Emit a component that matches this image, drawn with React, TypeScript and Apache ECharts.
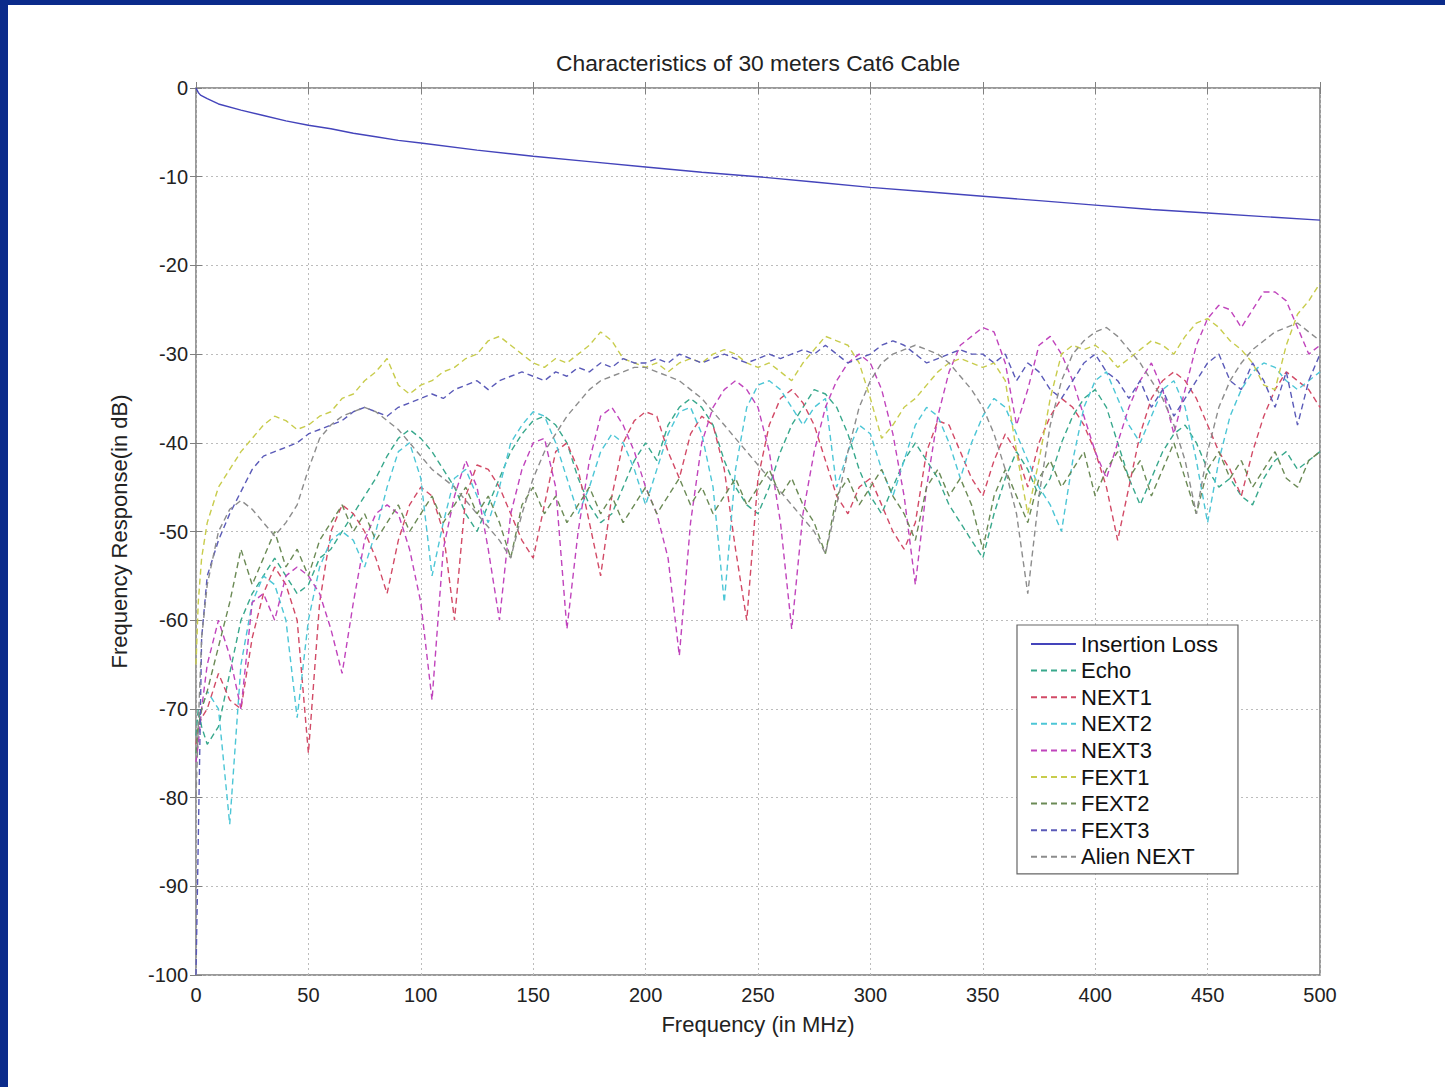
import React, { useEffect, useRef } from "react";
import * as echarts from "echarts";

// Frequency grid (MHz) shared by the measured curves
const freq = [0, 1, 2.5, 5, 10, 15, 20, 25, 30, 35, 40, 45, 50, 55, 60, 65, 70, 75, 80, 85, 90, 95, 100,
  105, 110, 115, 120, 125, 130, 135, 140, 145, 150, 155, 160, 165, 170, 175, 180, 185, 190, 195, 200,
  205, 210, 215, 220, 225, 230, 235, 240, 245, 250, 255, 260, 265, 270, 275, 280, 285, 290, 295, 300,
  305, 310, 315, 320, 325, 330, 335, 340, 345, 350, 355, 360, 365, 370, 375, 380, 385, 390, 395, 400,
  405, 410, 415, 420, 425, 430, 435, 440, 445, 450, 455, 460, 465, 470, 475, 480, 485, 490, 495, 500];

const ilFreq = [0, 1, 2, 5, 10, 20, 30, 40, 50, 60, 70, 80, 90, 100, 125, 150, 175, 200, 225, 250, 275, 300, 325, 350, 375, 400, 425, 450, 475, 500];
const insertionLoss = [0, -0.5, -0.8, -1.2, -1.8, -2.5, -3.1, -3.7, -4.2, -4.6, -5.1, -5.5, -5.9, -6.2, -7.0, -7.7, -8.3, -8.9, -9.5, -10.0, -10.6, -11.2, -11.7, -12.2, -12.7, -13.2, -13.7, -14.1, -14.5, -14.9];

const echo = [-73, -70, -72,
  -74, -72, -66, -60, -57, -55, -53, -55, -57, -56,
  -53, -52, -50, -48, -46, -44, -41.5, -39.5, -38.5, -39.5,
  -41, -43, -45, -48, -50, -47, -44, -41, -39, -37.5,
  -37, -38, -40, -44, -47, -49, -48, -45, -42, -40,
  -42, -38, -36, -35, -36, -38, -42, -45, -47, -48,
  -45, -41, -38, -36, -34, -34.5, -36, -39, -43, -46,
  -48, -45, -42, -40, -42, -44, -47, -49, -51, -53,
  -48, -44, -41, -43, -46, -44, -40, -37, -35, -34,
  -36, -40, -44, -47, -44, -41, -39, -38, -40, -43,
  -45, -44, -46, -47, -44, -42, -41, -43, -42, -41];

const next1 = [-74, -72, -71,
  -70, -66, -69, -70, -62, -57, -54, -56, -60, -75,
  -58, -50, -47, -48, -50, -53, -57, -51, -47, -45,
  -46, -50, -60, -46, -42.5, -43, -45, -48, -51, -53,
  -47, -41, -40, -43, -49, -55, -46, -40, -37.5, -36.5,
  -37, -41, -44, -39, -37, -38, -43, -52, -60, -44,
  -38, -35, -34, -35.5, -38, -42, -46, -48, -45, -44,
  -47, -50, -52, -49, -41, -37.5, -38, -41, -44, -46,
  -42, -39, -41, -45, -40, -37, -35, -36, -38, -41,
  -45, -51, -45, -39, -35, -33, -32, -33, -35, -38,
  -41, -43, -46, -41, -37, -34, -32, -33, -34, -36];

const next2 = [-75, -73, -70,
  -68, -70, -83, -65, -58, -55, -56, -60, -71, -60,
  -54, -51, -50, -51, -54, -50, -45, -41, -40, -44,
  -55, -49, -44, -43, -46, -49, -45, -40, -38, -36.5,
  -37, -40, -44, -48, -45, -41, -39, -40, -43, -47,
  -43, -39, -36.5, -36, -39, -45, -58, -43, -36, -33.5,
  -33, -34, -36, -38, -36, -35, -45, -41, -38, -39,
  -43, -46, -42, -38, -36, -37, -40, -44, -40, -37,
  -35, -36, -39, -42, -45, -47, -50, -42, -36, -33,
  -32, -35, -38, -40, -37, -34, -33, -36, -42, -49,
  -42, -37, -34, -32, -31, -31.5, -33, -34, -33, -32];

const next3 = [-76, -74, -70,
  -65, -60, -64, -70, -58, -57, -60, -55, -54, -55,
  -57, -61, -66, -58, -51, -48, -47, -48, -52, -58,
  -69, -52, -46, -42, -45, -52, -60, -48, -43, -40,
  -39.5, -45, -61, -50, -42, -37, -36, -38, -41, -45,
  -48, -53, -64, -49, -40, -36, -34, -33, -34, -36,
  -41, -49, -61, -48, -41, -36, -33, -31, -30, -31,
  -34, -39, -46, -56, -45, -37, -32, -29, -28, -27,
  -27.5, -31, -38, -34, -29, -28, -30, -33, -37, -41,
  -44, -40, -36, -33, -31, -34, -39, -34, -29, -26,
  -24.5, -25, -27, -25, -23, -23, -24, -27, -30, -29];

const fext1 = [-65, -58, -53,
  -49, -45, -43, -41, -39.5, -38, -37, -37.5, -38.5, -38,
  -37, -36.5, -35, -34.5, -33, -32, -30.5, -33.5, -34.5, -33.5,
  -33, -32, -31.5, -30.5, -30, -28.5, -28, -29, -30, -31,
  -31.5, -30.5, -31, -30, -29, -27.5, -28.5, -30.5, -31, -31.5,
  -31, -32, -31, -30.5, -31, -30, -29.5, -30, -31, -31.5,
  -31, -32, -33, -31, -29.5, -28, -28.5, -29, -31, -35,
  -39.5, -38, -36, -35, -33.5, -32, -31, -30.5, -31, -31.5,
  -31, -33, -41, -48, -42, -35, -30, -29, -29.5, -29,
  -30, -31.5, -30.5, -29.5, -28.5, -29, -30, -28, -26.5, -26,
  -27, -28.5, -29.5, -31, -33.5, -34, -29, -25.5, -24, -22];

const fext2 = [-75, -72, -70,
  -68, -63, -58, -52, -56, -53, -50, -54, -52, -55,
  -51, -49, -47, -50, -48, -51, -49, -47, -50, -48,
  -46, -49, -47, -45, -48, -46, -49, -53, -47, -45,
  -48, -46, -49, -47, -45, -48, -46, -49, -47, -45,
  -48, -46, -44, -47, -45, -48, -46, -44, -47, -45,
  -43, -46, -44, -47, -49, -52.5, -46, -44, -47, -45,
  -43, -46, -48, -51, -45, -43, -46, -44, -47, -52,
  -46, -43, -46, -49, -44, -42, -45, -43, -41, -46,
  -43, -41, -44, -42, -46, -43, -40, -44, -48, -43,
  -41, -44, -42, -45, -43, -41, -44, -45, -42, -41];

const fext3 = [-100, -85, -62,
  -55, -51, -48, -45.5, -43, -41.5, -41, -40.5, -40, -39,
  -38.5, -38, -37.5, -36.5, -36, -36.5, -37, -36, -35.5, -35,
  -34.5, -35, -34, -33.5, -33, -34, -33, -32.5, -32, -32.5,
  -33, -32, -32.5, -31.5, -32, -31, -31.5, -30.5, -31, -31,
  -30.5, -31, -30, -30.5, -31, -30.5, -30, -30.5, -31, -30.5,
  -30, -30.5, -30, -29.5, -30, -29, -30, -31, -30.5, -30,
  -29, -28.5, -29, -30, -31, -30.5, -30, -29.5, -30, -30,
  -31, -30, -33, -31, -32, -34, -35, -33, -31, -30,
  -32, -33, -35, -33, -36, -34, -37, -35, -33, -31,
  -30, -33, -34, -31, -33, -36, -32, -38, -33, -30];

const alienNext = [-80, -72, -62,
  -56, -50, -47.5, -46.5, -47.5, -49, -50.5, -49, -47, -43,
  -39.5, -38, -37, -36.5, -36, -36.5, -37.5, -38.5, -40, -41.5,
  -43, -44, -45, -46.5, -48, -49.5, -51, -53, -48, -44,
  -41, -39, -37, -35.5, -34, -33, -32.5, -32, -31.5, -31.5,
  -32, -32.5, -33, -34, -35, -36.5, -38, -39.5, -41, -42.5,
  -44, -45.5, -47, -48.5, -50, -52.5, -47, -41, -36, -33,
  -31, -30, -29.5, -29, -29.5, -30, -31, -32.5, -34, -36,
  -39, -43, -48, -57, -46, -38, -33, -30, -28.5, -27.5,
  -27, -28, -29.5, -31, -33, -35, -38, -42, -48, -41,
  -36, -33, -31, -29.5, -28.5, -27.5, -27, -26.5, -27.5, -28.5];

const seriesNames = ["Insertion Loss", "Echo", "NEXT1", "NEXT2", "NEXT3", "FEXT1", "FEXT2", "FEXT3", "Alien NEXT"];
const seriesColors = ["#4444bb", "#38a88c", "#d24a66", "#4cc6d6", "#c044bc", "#c8cc4c", "#6b8a55", "#5a5ab8", "#8c8c8c"];
const dashedData = [echo, next1, next2, next3, fext1, fext2, fext3, alienNext];

const titleText = "Characteristics of 30 meters Cat6 Cable";
const xName = "Frequency (in MHz)";
const yName = "Frequency Response(in dB)";

const FONT = '"Liberation Sans", Arial, Helvetica, sans-serif';

function pairs(xs: number[], ys: number[]) {
  return xs.map((x, i) => [x, ys[i]]);
}

export default function App() {
  const ref = useRef<HTMLDivElement>(null);
  useEffect(() => {
    if (!ref.current) return;
    document.body.style.margin = "0";
    document.body.style.background = "#ffffff";
    const chart = echarts.init(ref.current, undefined, { renderer: "svg" });
    const series: any[] = [
      {
        name: seriesNames[0],
        type: "line",
        data: pairs(ilFreq, insertionLoss),
        symbol: "none",
        showSymbol: false,
        lineStyle: { color: seriesColors[0], width: 1.4, type: "solid" },
        itemStyle: { color: seriesColors[0] },
        silent: true,
      },
    ];
    dashedData.forEach((d, i) => {
      series.push({
        name: seriesNames[i + 1],
        type: "line",
        data: pairs(freq, d),
        symbol: "none",
        showSymbol: false,
        lineStyle: { color: seriesColors[i + 1], width: 1.4, type: [6, 4] },
        itemStyle: { color: seriesColors[i + 1] },
        silent: true,
      });
    });

    const tickStyle = { show: true, inside: true, length: 6, lineStyle: { color: "#808080", width: 1 } };
    const split = { show: true, lineStyle: { color: "#bcbcbc", type: [2, 3], width: 1 } };

    chart.setOption({
      animation: false,
      backgroundColor: "#ffffff",
      title: {
        text: titleText,
        left: 551,
        top: 46,
        textStyle: { fontFamily: FONT, fontSize: 22.8, fontWeight: "normal", color: "#222" },
      },
      grid: {
        left: 196,
        right: 125,
        top: 88,
        bottom: 112,
        show: true,
        borderColor: "#7a7a7a",
        borderWidth: 1.5,
        backgroundColor: "#ffffff",
        containLabel: false,
        outerBoundsMode: "none",
      },
      legend: {
        orient: "vertical",
        left: 1017,
        top: 625,
        itemWidth: 45,
        itemHeight: 14,
        itemGap: 4.6,
        padding: [8, 20, 6, 13],
        backgroundColor: "#ffffff",
        borderColor: "#666",
        borderWidth: 1.2,
        borderRadius: 0,
        selectedMode: false,
        itemStyle: { opacity: 0 },
        textStyle: { fontFamily: FONT, fontSize: 22, color: "#111", lineHeight: 21 },
        data: seriesNames,
        z: 10,
      },
      xAxis: [
        {
          type: "value",
          min: 0,
          max: 500,
          interval: 50,
          position: "bottom",
          axisLine: { show: false },
          axisTick: tickStyle,
          axisLabel: { fontFamily: FONT, fontSize: 20, color: "#222", margin: 10, showMinLabel: true, showMaxLabel: true },
          splitLine: split,
          name: xName,
          nameLocation: "middle",
          nameGap: 38,
          nameTextStyle: { fontFamily: FONT, fontSize: 22, color: "#222" },
        },
        {
          type: "value",
          min: 0,
          max: 500,
          interval: 50,
          position: "top",
          axisLine: { show: false },
          axisTick: tickStyle,
          axisLabel: { show: false },
          splitLine: { show: false },
        },
      ],
      yAxis: [
        {
          type: "value",
          min: -100,
          max: 0,
          interval: 10,
          position: "left",
          axisLine: { show: false },
          axisTick: tickStyle,
          axisLabel: { fontFamily: FONT, fontSize: 20, color: "#222", margin: 8, showMinLabel: true, showMaxLabel: true },
          splitLine: split,
          name: yName,
          nameLocation: "middle",
          nameGap: 66,
          nameRotate: 90,
          nameTextStyle: { fontFamily: FONT, fontSize: 22, color: "#222" },
        },
        {
          type: "value",
          min: -100,
          max: 0,
          interval: 10,
          position: "right",
          axisLine: { show: false },
          axisTick: tickStyle,
          axisLabel: { show: false },
          splitLine: { show: false },
        },
      ],
      series,
      graphic: [
        { type: "rect", shape: { x: 0, y: 0, width: 1445, height: 5 }, style: { fill: "#0b2b8b" }, z: 100 },
        { type: "rect", shape: { x: 0, y: 0, width: 8, height: 1087 }, style: { fill: "#0b2b8b" }, z: 100 },
      ],
    });
    return () => chart.dispose();
  }, []);
  return (
    <div
      ref={ref}
      style={{ position: "absolute", left: 0, top: 0, width: 1445, height: 1087, background: "#fff" }}
    />
  );
}
